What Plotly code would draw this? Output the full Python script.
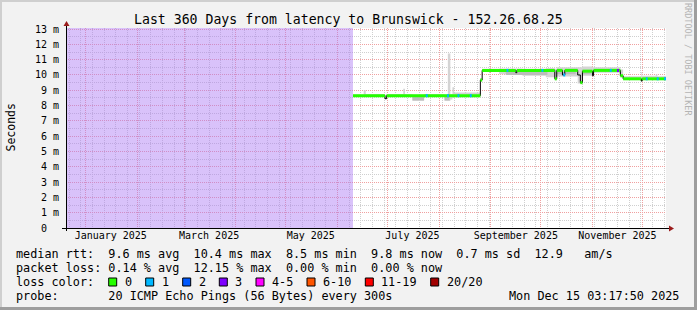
import plotly.graph_objects as go
import pandas as pd

# ---------------- data ----------------
t_start = "2024-12-20 03:17:50"
t_end = "2025-12-15 03:17:50"
y_top = 13.07

# period with no data (shaded)
unknown_t = ["2024-12-20 03:17:50", "2025-06-10 08:00"]

# median rtt (ms) as steps: value med_v[i] holds from med_t[i] to med_t[i+1]
med_t = ["2025-06-10 08:00", "2025-06-29 12:00", "2025-06-30 12:00", "2025-08-25 18:00",
         "2025-08-26 20:00", "2025-09-16 00:00", "2025-09-16 16:00", "2025-10-09 10:00",
         "2025-10-10 14:00", "2025-10-14 00:00", "2025-10-15 10:00", "2025-10-23 04:00",
         "2025-10-24 18:00", "2025-10-26 00:00", "2025-11-01 00:00", "2025-11-01 16:00",
         "2025-11-17 18:00", "2025-11-19 10:00", "2025-11-30 08:00", "2025-11-30 20:00",
         "2025-12-15 03:00"]
med_v = [8.65, 8.45, 8.65, 9.67, 10.30, 10.15, 10.30, 9.75, 10.30, 10.00, 10.30, 10.00,
         9.50, 10.25, 9.95, 10.30, 9.95, 9.75, 9.60, 9.75]
med_loss = [0, -1, 0, 0, 0, -1, 0, 0, 0, -1, 0, -1, 0, 0, -1, 0, 0, 0, -1, 0]

# packet-loss coloured spots on the median line
loss_t = ["2025-07-24 00:00", "2025-08-05 18:00", "2025-08-12 00:00", "2025-08-19 10:00",
          "2025-09-10 10:00", "2025-10-01 10:00", "2025-10-14 12:00", "2025-11-11 10:00",
          "2025-11-15 18:00", "2025-12-03 00:00", "2025-12-09 14:00", "2025-12-14 00:00"]
loss_n = [1, 1, 1, 1, 1, 1, 1, 1, 3, 1, 1, 1]
loss_v = [8.65, 8.65, 8.65, 8.65, 10.30, 10.30, 10.00, 10.30, 10.30, 9.75, 9.75, 9.75]

# smoke (spread of individual pings), step bands
smoke_t = ["2025-06-10 08:00", "2025-06-16 18:00", "2025-06-18 00:00", "2025-06-29 12:00",
           "2025-06-30 12:00", "2025-07-10 12:00", "2025-07-11 12:00", "2025-07-16 00:00",
           "2025-07-23 00:00", "2025-08-04 06:00", "2025-08-06 06:00", "2025-08-07 18:00",
           "2025-08-09 00:00", "2025-08-10 00:00", "2025-08-25 18:00", "2025-08-26 20:00",
           "2025-09-06 00:00", "2025-09-20 00:00", "2025-10-04 00:00", "2025-10-09 10:00",
           "2025-10-10 14:00", "2025-10-23 04:00", "2025-10-26 00:00", "2025-11-01 00:00",
           "2025-11-17 18:00", "2025-11-19 10:00", "2025-11-30 08:00", "2025-11-30 20:00",
           "2025-12-09 00:00", "2025-12-10 00:00", "2025-12-15 03:00"]
smoke_lo = [8.60, 8.60, 8.58, 8.42, 8.58, 8.58, 8.58, 8.30, 8.56, 8.30, 8.30, 8.40,
            8.50, 8.55, 9.55, 10.20, 10.05, 9.95, 9.85, 9.65, 9.90, 9.45, 9.95, 10.15,
            9.85, 9.70, 9.55, 9.70, 9.70, 9.70]
smoke_hi = [8.72, 9.00, 8.75, 8.70, 8.75, 9.10, 8.75, 8.72, 8.75, 8.72, 11.40, 8.75,
            9.20, 8.85, 9.80, 10.40, 10.42, 10.40, 10.45, 10.40, 10.50, 10.50, 10.55, 10.50,
            10.35, 9.92, 10.20, 9.95, 10.05, 9.92]

# denser smoke patches
dark_t0 = ["2025-07-16 00:00", "2025-08-04 06:00", "2025-09-10 00:00", "2025-10-10 14:00", "2025-10-26 00:00"]
dark_t1 = ["2025-07-23 00:00", "2025-08-07 06:00", "2025-10-05 00:00", "2025-10-22 00:00", "2025-10-31 00:00"]
dark_lo = [8.35, 8.35, 10.00, 10.05, 10.05]
dark_hi = [8.60, 8.60, 10.20, 10.20, 10.25]

# axis labels
y_ticks = list(range(14))
y_labels = ["0\u00a0\u00a0"] + [f"{v}\u00a0m" for v in range(1, 14)]
x_label_t = ["2025-01-16", "2025-03-16", "2025-05-16", "2025-07-16", "2025-09-16", "2025-11-16"]
x_labels = ["January 2025", "March 2025", "May 2025", "July 2025", "September 2025", "November 2025"]

# legend
legend_lines = [
    "median rtt:  9.6 ms avg  10.4 ms max  8.5 ms min  9.8 ms now  0.7 ms sd  12.9   am/s",
    "packet loss: 0.14 % avg  12.15 % max  0.00 % min  0.00 % now",
    "loss color:",
    "probe:       20 ICMP Echo Pings (56 Bytes) every 300s",
]
loss_labels = ["0", "1", "2", "3", "4-5", "6-10", "11-19", "20/20"]
loss_colors = ["#26ff00", "#00b8ff", "#0059ff", "#7e00ff", "#ff00ff", "#ff5500", "#ff0000", "#a10000"]
loss_color_by_n = {0: loss_colors[0], 1: loss_colors[1], 2: loss_colors[2], 3: loss_colors[3]}
stamp = "Mon Dec 15 03:17:50 2025"
title = "Last 360 Days from latency to Brunswick - 152.26.68.25"

# ---------------- layout geometry ----------------
W, H = 697, 310
PL, PR, PT, PB = 66, 666, 28, 228  # plot area in px


def px(x):
    return (x - PL) / (PR - PL)


def py(y):
    return (PB - y) / (PB - PT)


MONO = "DejaVu Sans Mono"
LEG = 11.8
fig = go.Figure()

# unknown-data shading (on overlay axis x2)
fig.add_trace(go.Scatter(x=unknown_t, y=[y_top, y_top], mode="lines", line=dict(width=0),
                         fill="tozeroy", fillcolor="rgba(170,120,245,0.45)",
                         xaxis="x2", yaxis="y", hoverinfo="skip", showlegend=False))

# smoke band
fig.add_trace(go.Scatter(x=smoke_t, y=smoke_lo + [smoke_lo[-1]], mode="lines", line=dict(width=0, shape="hv"),
                         hoverinfo="skip", showlegend=False))
fig.add_trace(go.Scatter(x=smoke_t, y=smoke_hi + [smoke_hi[-1]], mode="lines", line=dict(width=0, shape="hv"),
                         fill="tonexty", fillcolor="#d4d4d4", hoverinfo="skip", showlegend=False))

# dense smoke patches
dx, dy = [], []
for a, b, lo, hi in zip(dark_t0, dark_t1, dark_lo, dark_hi):
    dx += [a, b, b, a, a, None]
    dy += [lo, lo, hi, hi, lo, None]
fig.add_trace(go.Scatter(x=dx, y=dy, mode="lines", line=dict(width=0), fill="toself",
                         fillcolor="#bcbcbc", hoverinfo="skip", showlegend=False))

# median black step line
fig.add_trace(go.Scatter(x=med_t, y=med_v + [med_v[-1]], mode="lines",
                         line=dict(color="#000000", width=1, shape="hv"),
                         hoverinfo="skip", showlegend=False))

# median coloured (loss 0) segments
gx, gy = [], []
for i, v in enumerate(med_v):
    if med_loss[i] == 0:
        gx += [med_t[i], med_t[i + 1], None]
        gy += [v, v, None]
fig.add_trace(go.Scatter(x=gx, y=gy, mode="lines", line=dict(color=loss_colors[0], width=3),
                         hoverinfo="skip", showlegend=False))

# loss spots
for n in sorted(set(loss_n)):
    lx, ly = [], []
    for t, k, v in zip(loss_t, loss_n, loss_v):
        if k == n:
            t0 = pd.Timestamp(t)
            lx += [t0, t0 + pd.Timedelta(hours=28), None]
            ly += [v, v, None]
    fig.add_trace(go.Scatter(x=lx, y=ly, mode="lines", line=dict(color=loss_color_by_n[n], width=3),
                             hoverinfo="skip", showlegend=False))

shapes = []
# frame
shapes.append(dict(type="rect", xref="paper", yref="paper", x0=px(0), x1=px(W), y0=py(0), y1=py(2),
                   fillcolor="#cfcfcf", line=dict(width=0), layer="below"))
shapes.append(dict(type="rect", xref="paper", yref="paper", x0=px(0), x1=px(2), y0=py(0), y1=py(H),
                   fillcolor="#cfcfcf", line=dict(width=0), layer="below"))
shapes.append(dict(type="rect", xref="paper", yref="paper", x0=px(W - 3), x1=px(W), y0=py(0), y1=py(H),
                   fillcolor="#9e9e9e", line=dict(width=0), layer="below"))
shapes.append(dict(type="rect", xref="paper", yref="paper", x0=px(0), x1=px(W), y0=py(H - 3), y1=py(H),
                   fillcolor="#9e9e9e", line=dict(width=0), layer="below"))
# axes
shapes.append(dict(type="line", xref="paper", yref="paper", x0=px(66.5), x1=px(66.5), y0=py(231), y1=py(25),
                   line=dict(color="#000000", width=1)))
shapes.append(dict(type="line", xref="paper", yref="paper", x0=px(62), x1=px(670), y0=py(228.5), y1=py(228.5),
                   line=dict(color="#000000", width=1)))
shapes.append(dict(type="path", xref="paper", yref="paper",
                   path=f"M {px(63.5)} {py(26)} L {px(69.5)} {py(26)} L {px(66.5)} {py(21)} Z",
                   fillcolor="#9b1c1c", line=dict(width=0)))
shapes.append(dict(type="path", xref="paper", yref="paper",
                   path=f"M {px(669)} {py(225.5)} L {px(669)} {py(231.5)} L {px(674)} {py(228.5)} Z",
                   fillcolor="#9b1c1c", line=dict(width=0)))
# legend boxes
box_x = [108.7, 145.7, 182.7, 219.3, 256, 307, 365.3, 430.7]
for bx, c in zip(box_x, loss_colors):
    shapes.append(dict(type="rect", xref="paper", yref="paper", x0=px(bx), x1=px(bx + 8),
                       y0=py(286), y1=py(278), fillcolor=c, line=dict(color="#000000", width=1)))

annotations = []
annotations.append(dict(text=title, xref="paper", yref="paper", x=px(348), y=py(19), xanchor="center",
                        yanchor="middle", showarrow=False, font=dict(family=MONO, size=13.2, color="#000")))
annotations.append(dict(text="Seconds", xref="paper", yref="paper", x=px(10.5), y=py(128), textangle=-90,
                        xanchor="center", yanchor="middle", showarrow=False,
                        font=dict(family=MONO, size=11.5, color="#000")))
annotations.append(dict(text="RRDTOOL / TOBI OETIKER", xref="paper", yref="paper", x=px(688), y=py(59),
                        textangle=90, xanchor="center", yanchor="middle", showarrow=False,
                        font=dict(family=MONO, size=8.5, color="#b4b4b4")))
row_y = [254.3, 268.0, 282.0, 295.7]
for line, yy in zip(legend_lines, row_y):
    annotations.append(dict(text=line.replace(" ", "\u00a0"), xref="paper", yref="paper", x=px(13.5), y=py(yy),
                            xanchor="left", yanchor="middle", showarrow=False,
                            font=dict(family=MONO, size=LEG, color="#000")))
for bx, lab in zip(box_x, loss_labels):
    annotations.append(dict(text=lab, xref="paper", yref="paper", x=px(bx + 14.0), y=py(282.0),
                            xanchor="left", yanchor="middle", showarrow=False,
                            font=dict(family=MONO, size=LEG, color="#000")))
annotations.append(dict(text=stamp, xref="paper", yref="paper", x=px(681), y=py(295.7),
                        xanchor="right", yanchor="middle", showarrow=False,
                        font=dict(family=MONO, size=LEG, color="#000")))

MAJ = "#f0a0a0"
MIN = "#cfcfcf"
fig.update_layout(
    width=W, height=H,
    margin=dict(l=PL, r=W - PR, t=PT, b=H - PB, pad=0),
    paper_bgcolor="#f2f2f2", plot_bgcolor="#ffffff",
    showlegend=False,
    xaxis=dict(range=[t_start, t_end], type="date", tickmode="linear", tick0="2025-01-01", dtick="M1",
               showticklabels=False, ticks="", showgrid=True, gridcolor=MAJ, griddash="1px,1px", gridwidth=1,
               zeroline=False, showline=False,
               minor=dict(tick0="2024-12-22", dtick=7 * 86400000, showgrid=True, gridcolor=MIN,
                          griddash="1px,1px", ticks="")),
    xaxis2=dict(range=[t_start, t_end], type="date", overlaying="x", anchor="y", side="bottom",
                tickmode="array", tickvals=x_label_t, ticktext=x_labels, showgrid=False, zeroline=False,
                ticks="", showline=False, tickfont=dict(family=MONO, size=10, color="#000")),
    yaxis=dict(range=[0, y_top], tickmode="array", tickvals=y_ticks, ticktext=y_labels,
               showgrid=True, gridcolor=MAJ, griddash="1px,1px", zeroline=False, showline=False, ticks="",
               ticklabelstandoff=6,
               tickfont=dict(family=MONO, size=10, color="#000"),
               minor=dict(dtick=0.5, showgrid=True, gridcolor=MIN, griddash="1px,1px", ticks="")),
    shapes=shapes,
    annotations=annotations,
)

fig.write_html("out.html")
